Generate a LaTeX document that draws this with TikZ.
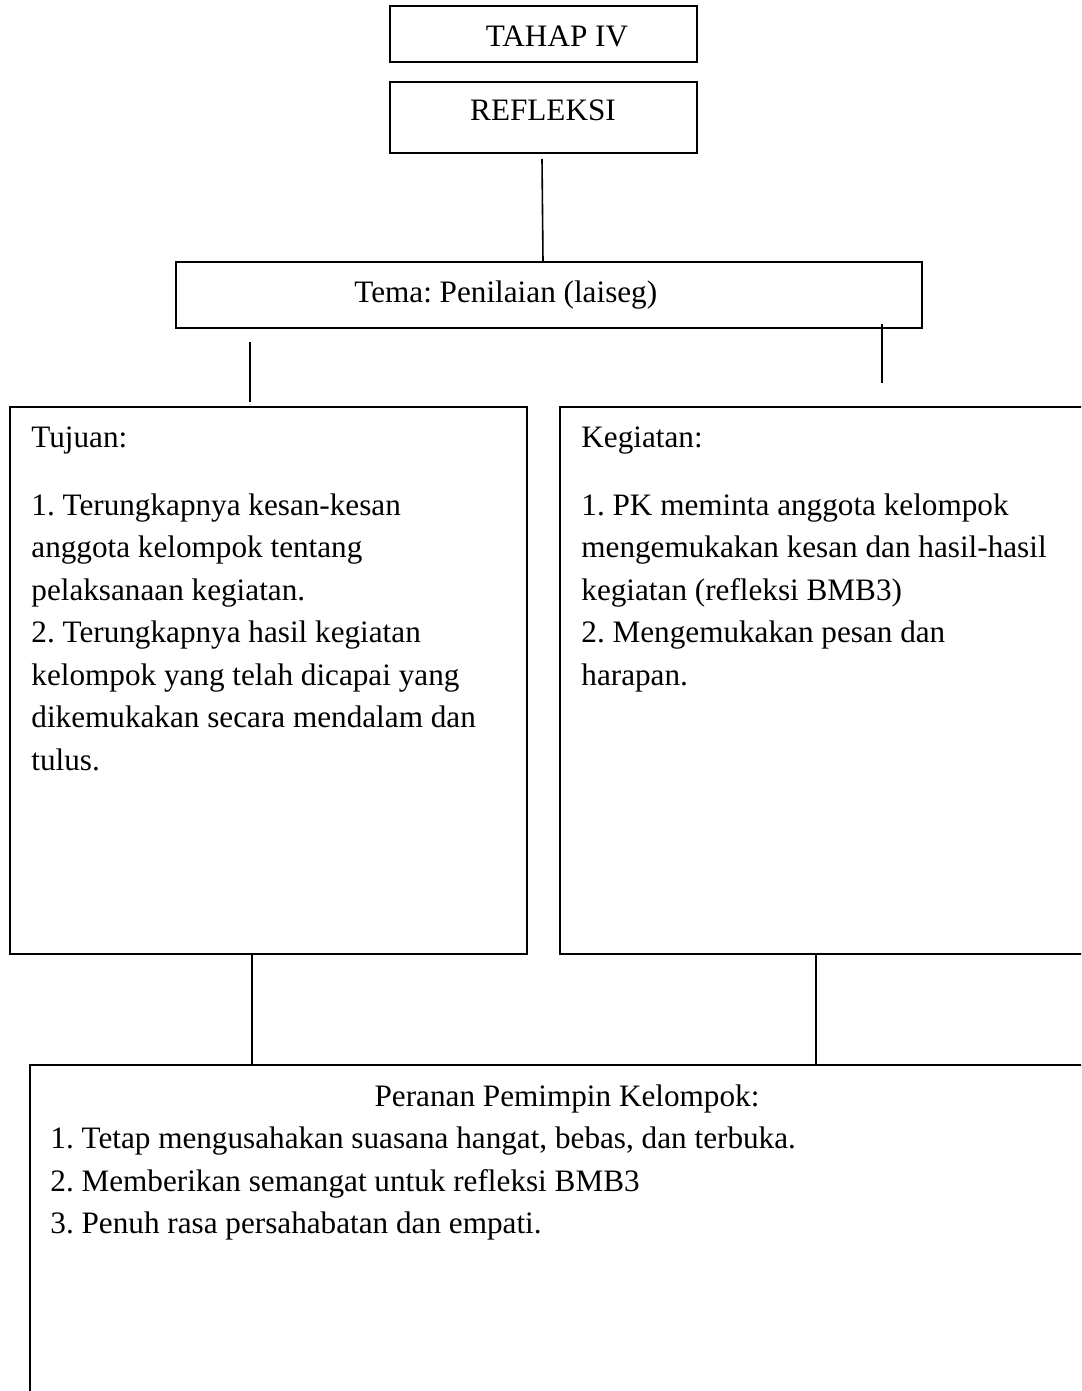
\documentclass[tikz,border=0pt]{standalone}
\usepackage{fontspec}
\setmainfont{Liberation Serif}
\usetikzlibrary{fit}
\frenchspacing
\begin{document}
\begin{tikzpicture}[x=0.5pt,y=-0.5pt,
  box/.style={draw=black,line width=1pt,inner sep=0pt},
  txt/.style={inner sep=0pt,font=\fontsize{15.6}{19}\selectfont\frenchspacing},
  conn/.style={draw=black,line width=0.8pt}]
\useasboundingbox (0,0) rectangle (1081,1391);
\clip (0,0) rectangle (1081,1391);
% boxes
\node[box,fit={(390,6) (697,62)}] (tahap) {};
\node[box,fit={(390,82) (697,153)}] (refl) {};
\node[box,fit={(176,262) (922,328)}] (tema) {};
\node[box,fit={(10,407) (527,954)}] (tujuan) {};
\node[box,fit={(560,407) (1110,954)}] (keg) {};
\node[box,fit={(30,1065) (1110,1420)}] (peran) {};
% titles
\node[txt,anchor=base] (t1) at (557,47) {TAHAP IV};
\node[txt,anchor=base] (t2) at (543,121) {REFLEKSI};
\node[txt,anchor=base west] (t3) at (354,302) {Tema: Penilaian (laiseg)};
% Tujuan text
\node[txt,anchor=base west] (tj0) at (31,447) {Tujuan:};
\foreach \y/\s [count=\i] in {515/{1. Terungkapnya kesan-kesan},557.5/{anggota kelompok tentang},600/{pelaksanaan kegiatan.},642.5/{2. Terungkapnya hasil kegiatan},685/{kelompok yang telah dicapai yang},727.5/{dikemukakan secara mendalam dan},770/{tulus.}}
  \node[txt,anchor=base west] (tj\i) at (31,\y) {\s};
% Kegiatan text
\node[txt,anchor=base west] (kg0) at (581,447) {Kegiatan:};
\foreach \y/\s [count=\i] in {515/{1. PK meminta anggota kelompok},557.5/{mengemukakan kesan dan hasil-hasil},600/{kegiatan (refleksi BMB3)},642.5/{2. Mengemukakan pesan dan},685/{harapan.}}
  \node[txt,anchor=base west] (kg\i) at (581,\y) {\s};
% Peranan text
\node[txt,anchor=base] (pr0) at (567,1106) {Peranan Pemimpin Kelompok:};
\foreach \y/\s [count=\i] in {1148.5/{1. Tetap mengusahakan suasana hangat, bebas, dan terbuka.},1191/{2. Memberikan semangat untuk refleksi BMB3},1233.5/{3. Penuh rasa persahabatan dan empati.}}
  \node[txt,anchor=base west] (pr\i) at (50,\y) {\s};
% connectors
\coordinate (c1a) at (542,159);
\coordinate (c1b) at (543,262);
\coordinate (c2a) at (250,342);
\coordinate (c2b) at (250,402);
\coordinate (c3a) at (882,324);
\coordinate (c3b) at (882,383);
\coordinate (c4a) at (252,954);
\coordinate (c4b) at (252,1065);
\coordinate (c5a) at (816,954);
\coordinate (c5b) at (816,1065);
\draw[conn] (c1a) -- (c1b);
\draw[conn] (c2a) -- (c2b);
\draw[conn] (c3a) -- (c3b);
\draw[conn] (c4a) -- (c4b);
\draw[conn] (c5a) -- (c5b);
\end{tikzpicture}
\end{document}
